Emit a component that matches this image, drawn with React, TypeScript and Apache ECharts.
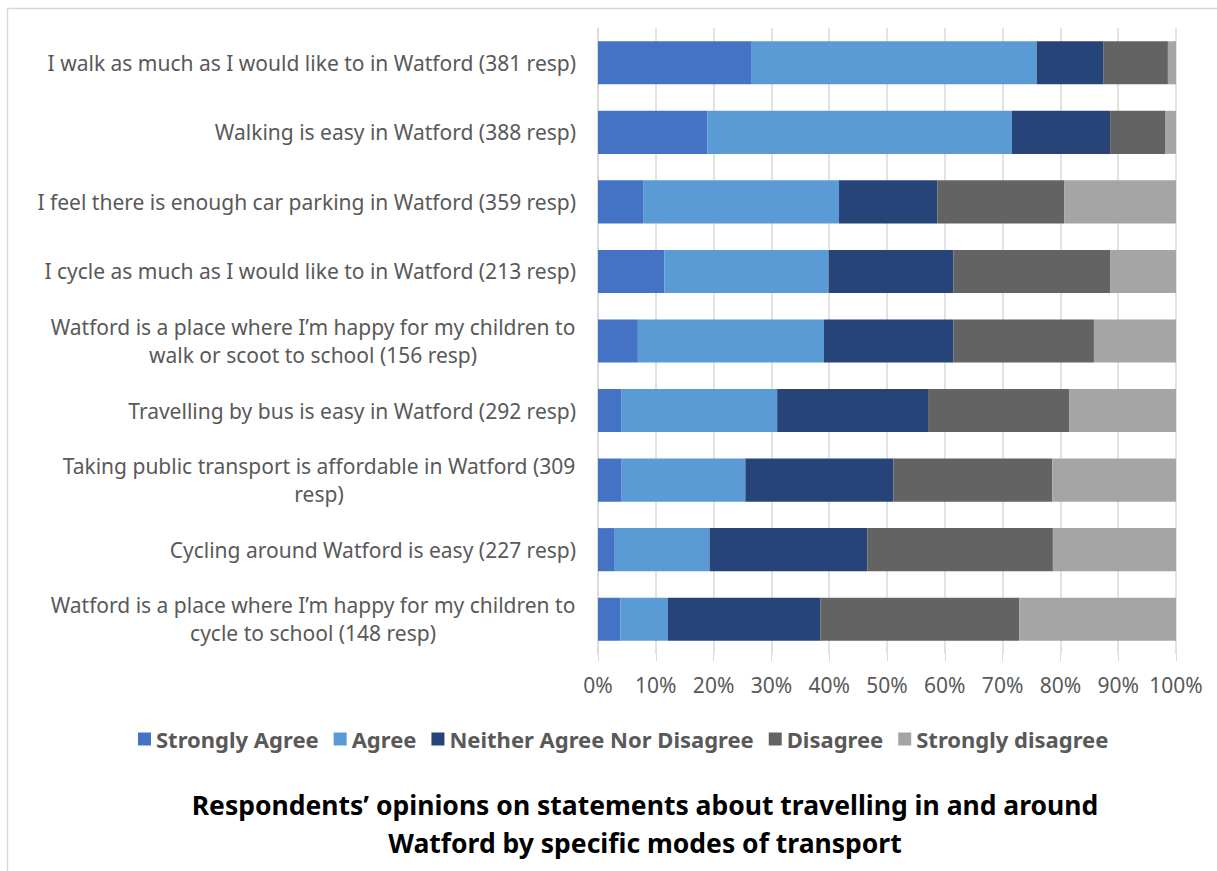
import React, { useEffect, useRef } from "react";
import * as echarts from "echarts";

const categories = [
  "I walk as much as I would like to in Watford (381 resp)",
  "Walking is easy in Watford (388 resp)",
  "I feel there is enough car parking in Watford (359 resp)",
  "I cycle as much as I would like to in Watford (213 resp)",
  "Watford is a place where I\u2019m happy for my children to\nwalk or scoot to school (156 resp)",
  "Travelling by bus is easy in Watford (292 resp)",
  "Taking public transport is affordable in Watford (309\nresp)",
  "Cycling around Watford is easy (227 resp)",
  "Watford is a place where I\u2019m happy for my children to\ncycle to school (148 resp)",
];

const seriesNames = ["Strongly Agree", "Agree", "Neither Agree Nor Disagree", "Disagree", "Strongly disagree"];

const stronglyAgree = [26.6, 18.9, 7.8, 11.5, 6.9, 4.0, 4.1, 2.9, 3.9];
const agree = [49.3, 52.7, 33.9, 28.4, 32.2, 27.0, 21.4, 16.4, 8.2];
const neither = [11.5, 17.0, 17.0, 21.6, 22.4, 26.1, 25.6, 27.3, 26.4];
const disagree = [11.2, 9.5, 22.0, 27.1, 24.3, 24.4, 27.5, 32.1, 34.4];
const stronglyDisagree = [1.4, 1.9, 19.3, 11.4, 14.2, 18.5, 21.4, 21.3, 27.1];

const xTicks = [0, 10, 20, 30, 40, 50, 60, 70, 80, 90, 100];

const colors = ["#4472C4", "#5B9BD5", "#264478", "#636363", "#A5A5A5"];

const titleText = "Respondents\u2019 opinions on statements about travelling in and around\nWatford by specific modes of transport";

const FONT = "Noto Sans";
const LABEL_SIZE = 21;

export default function App() {
  const ref = useRef<HTMLDivElement>(null);
  useEffect(() => {
    if (!ref.current) return;
    const chart = echarts.init(ref.current, undefined, { renderer: "svg" });
    const canvas = document.createElement("canvas");
    const ctx = canvas.getContext("2d")!;
    ctx.font = `${LABEL_SIZE}px "${FONT}"`;
    const values = [stronglyAgree, agree, neither, disagree, stronglyDisagree];
    const rich: Record<string, any> = {};
    const labelMap: Record<string, string> = {};
    categories.forEach((c, i) => {
      if (c.includes("\n")) {
        const lines = c.split("\n");
        const w = Math.max(...lines.map((l) => ctx.measureText(l).width));
        const key = "c" + i;
        rich[key] = { width: Math.ceil(w) + 1, align: "center", fontSize: LABEL_SIZE, fontFamily: FONT, color: "#595959", lineHeight: 28 };
        labelMap[c] = lines.map((l) => `{${key}|${l}}`).join("\n");
      }
    });
    chart.setOption({
      animation: false,
      textStyle: { fontFamily: FONT },
      grid: { left: 598, right: 41, top: 28, bottom: 217, containLabel: false },
      legend: {
        data: seriesNames,
        left: 133,
        top: 723,
        icon: "rect",
        itemWidth: 13,
        itemHeight: 13,
        itemGap: 15,
        textStyle: { fontSize: 22, fontWeight: "bold", color: "#595959", fontFamily: FONT },
      },
      xAxis: {
        type: "value",
        min: 0,
        max: 100,
        interval: 10,
        axisLine: { show: false },
        axisTick: { show: true, length: 7, lineStyle: { color: "#D9D9D9" } },
        splitLine: { show: true, lineStyle: { color: "#D9D9D9", width: 1.5 } },
        axisLabel: {
          margin: 20,
          fontSize: LABEL_SIZE,
          color: "#595959",
          fontFamily: FONT,
          formatter: (v: number) => (xTicks.includes(v) ? v + "%" : ""),
        },
      },
      yAxis: {
        type: "category",
        inverse: true,
        data: categories,
        axisLine: { show: true, lineStyle: { color: "#D9D9D9", width: 1.5 } },
        axisTick: { show: false },
        axisLabel: {
          margin: 22,
          fontSize: LABEL_SIZE,
          color: "#595959",
          fontFamily: FONT,
          lineHeight: 28,
          align: "right",
          rich,
          formatter: (v: string) => labelMap[v] || v,
        },
      },
      series: seriesNames.map((name, i) => ({
        name,
        type: "bar",
        stack: "total",
        barWidth: "62%",
        data: values[i],
        itemStyle: { color: colors[i] },
      })),
      graphic: [
        {
          type: "rect",
          shape: { x: 7.5, y: 8.5, width: 1212, height: 900 },
          style: { fill: "none", stroke: "#D9D9D9", lineWidth: 1.5 },
          silent: true,
        },
        {
          type: "text",
          x: 645,
          y: 786,
          style: {
            text: titleText,
            textAlign: "center",
            fontSize: 26.5,
            fontWeight: "bold",
            fontFamily: FONT,
            fill: "#000000",
            lineHeight: 38,
          },
        },
      ],
    });
    return () => chart.dispose();
  }, []);
  return <div ref={ref} style={{ position: "absolute", left: 0, top: 0, width: 1217, height: 871 }} />;
}
